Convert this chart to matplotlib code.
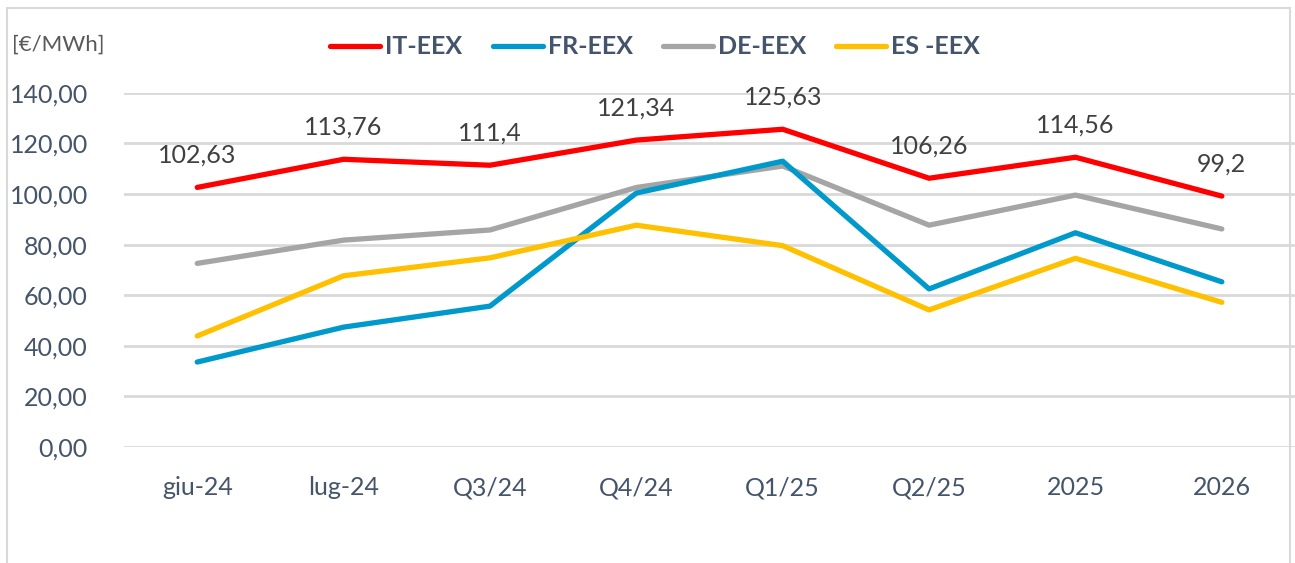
import matplotlib
matplotlib.use("Agg")
import matplotlib.pyplot as plt
from matplotlib.patches import Rectangle

plt.rcParams['font.family'] = ['Lato', 'DejaVu Sans']

# data
periods = ['giu-24', 'lug-24', 'Q3/24', 'Q4/24', 'Q1/25', 'Q2/25', '2025', '2026']
it_eex = [102.63, 113.76, 111.4, 121.34, 125.63, 106.26, 114.56, 99.2]
fr_eex = [33.6, 47.4, 55.7, 100.4, 113.0, 62.5, 84.7, 65.3]
de_eex = [72.6, 81.8, 85.8, 102.6, 111.1, 87.7, 99.6, 86.2]
es_eex = [43.9, 67.7, 74.8, 87.7, 79.6, 54.2, 74.6, 57.2]

tick_color = '#44546A'
label_color = '#404040'

fig = plt.figure(figsize=(12.95, 5.63), dpi=100)
ax = fig.add_axes([0.0958, 0.206, 0.9042, 0.629])

x = range(len(periods))
lw = 3.8
ax.plot(x, it_eex, color='#FF0000', lw=lw, label='IT-EEX', solid_capstyle='round', zorder=5)
ax.plot(x, fr_eex, color='#0099CC', lw=lw, label='FR-EEX', solid_capstyle='round', zorder=3)
ax.plot(x, de_eex, color='#A5A5A5', lw=lw, label='DE-EEX', solid_capstyle='round', zorder=2)
ax.plot(x, es_eex, color='#FFC000', lw=lw, label='ES -EEX', solid_capstyle='round', zorder=4)

# value labels on the IT series
for i, v in enumerate(it_eex):
    txt = f'{v:g}'.replace('.', ',')
    ax.annotate(txt, (i, v), xytext=(0, 15), textcoords='offset points',
                ha='center', va='bottom', fontsize=18, color=label_color)

ax.set_xlim(-0.5, len(periods) - 0.5)
ax.set_ylim(0, 140)
ax.set_yticks(range(0, 141, 20))
ax.set_yticklabels([f'{v},00' for v in range(0, 141, 20)])
ax.set_xticks(list(x))
ax.set_xticklabels(periods)
ax.tick_params(axis='both', length=0, labelsize=18, labelcolor=tick_color)
ax.tick_params(axis='y', pad=26)
ax.tick_params(axis='x', pad=21)
ax.grid(axis='y', color='#D9D9D9', lw=2)
ax.set_axisbelow(True)
for s in ax.spines.values():
    s.set_visible(False)

fig.text(12 / 1295, 1 - 45 / 563, '[€/MWh]', fontsize=16, color='#595959', va='center', ha='left')

fig.legend(loc='center', bbox_to_anchor=(655 / 1295, 1 - 47 / 563), ncol=4, frameon=False,
           prop={'size': 18, 'weight': 'bold'}, labelcolor=tick_color,
           handlelength=2.0, handletextpad=0.2, columnspacing=1.2)

# outer chart frame
fig.patches.append(Rectangle((7 / 1295, -0.1), 1283 / 1295, 1.1 - 8 / 563,
                             transform=fig.transFigure, fill=False,
                             edgecolor='#D9D9D9', lw=1.5, zorder=0))

fig.savefig('out.png', dpi=100)
